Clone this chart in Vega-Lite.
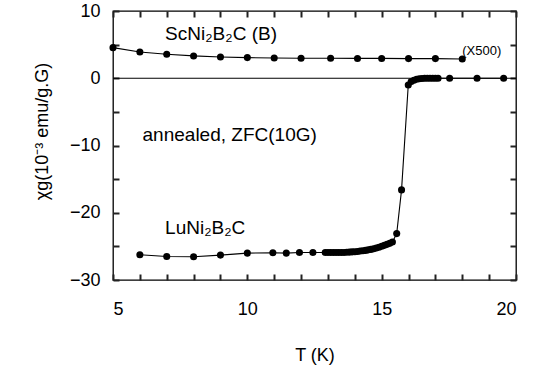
{
  "$schema": "https://vega.github.io/schema/vega-lite/v6.json",
  "autosize": {"type": "none"},
  "width": 403,
  "height": 269,
  "padding": {"left": 113, "top": 11, "right": 18, "bottom": 89},
  "background": "white",
  "config": {
    "view": {"stroke": "black", "strokeWidth": 1.3},
    "font": "Liberation Sans"
  },
  "datasets": {
    "pts": [
      {"series": "Sc", "T": 5, "chi": 4.55},
      {"series": "Sc", "T": 6, "chi": 3.91},
      {"series": "Sc", "T": 7, "chi": 3.56},
      {"series": "Sc", "T": 8, "chi": 3.32},
      {"series": "Sc", "T": 9, "chi": 3.17},
      {"series": "Sc", "T": 10, "chi": 3.07},
      {"series": "Sc", "T": 11, "chi": 3.02},
      {"series": "Sc", "T": 12, "chi": 2.97},
      {"series": "Sc", "T": 13.1, "chi": 2.97},
      {"series": "Sc", "T": 14.1, "chi": 2.95},
      {"series": "Sc", "T": 15, "chi": 2.95},
      {"series": "Sc", "T": 16, "chi": 2.92},
      {"series": "Sc", "T": 17, "chi": 2.92},
      {"series": "Sc", "T": 18, "chi": 2.87},
      {"series": "Lu", "T": 6, "chi": -26.25},
      {"series": "Lu", "T": 7, "chi": -26.5},
      {"series": "Lu", "T": 8, "chi": -26.55},
      {"series": "Lu", "T": 9, "chi": -26.3},
      {"series": "Lu", "T": 10, "chi": -26.0},
      {"series": "Lu", "T": 10.95, "chi": -25.95},
      {"series": "Lu", "T": 11.45, "chi": -26.0},
      {"series": "Lu", "T": 11.94, "chi": -25.9},
      {"series": "Lu", "T": 12.44, "chi": -25.9},
      {"series": "Lu", "T": 12.9, "chi": -25.9},
      {"series": "Lu", "T": 13.0, "chi": -25.9},
      {"series": "Lu", "T": 13.1, "chi": -25.9},
      {"series": "Lu", "T": 13.2, "chi": -25.92},
      {"series": "Lu", "T": 13.3, "chi": -25.92},
      {"series": "Lu", "T": 13.4, "chi": -25.92},
      {"series": "Lu", "T": 13.5, "chi": -25.9},
      {"series": "Lu", "T": 13.6, "chi": -25.9},
      {"series": "Lu", "T": 13.7, "chi": -25.88},
      {"series": "Lu", "T": 13.8, "chi": -25.85},
      {"series": "Lu", "T": 13.9, "chi": -25.82},
      {"series": "Lu", "T": 14.0, "chi": -25.8},
      {"series": "Lu", "T": 14.1, "chi": -25.75},
      {"series": "Lu", "T": 14.2, "chi": -25.7},
      {"series": "Lu", "T": 14.3, "chi": -25.65},
      {"series": "Lu", "T": 14.4, "chi": -25.6},
      {"series": "Lu", "T": 14.5, "chi": -25.52},
      {"series": "Lu", "T": 14.6, "chi": -25.45},
      {"series": "Lu", "T": 14.7, "chi": -25.35},
      {"series": "Lu", "T": 14.8, "chi": -25.25},
      {"series": "Lu", "T": 14.9, "chi": -25.12},
      {"series": "Lu", "T": 15.0, "chi": -24.98},
      {"series": "Lu", "T": 15.1, "chi": -24.85},
      {"series": "Lu", "T": 15.2, "chi": -24.7},
      {"series": "Lu", "T": 15.3, "chi": -24.55},
      {"series": "Lu", "T": 15.4, "chi": -24.35},
      {"series": "Lu", "T": 15.56, "chi": -23.1},
      {"series": "Lu", "T": 15.74, "chi": -16.6},
      {"series": "Lu", "T": 15.99, "chi": -1.0},
      {"series": "Lu", "T": 16.1, "chi": -0.5},
      {"series": "Lu", "T": 16.2, "chi": -0.3},
      {"series": "Lu", "T": 16.3, "chi": -0.15},
      {"series": "Lu", "T": 16.4, "chi": -0.08},
      {"series": "Lu", "T": 16.5, "chi": -0.03},
      {"series": "Lu", "T": 16.6, "chi": 0},
      {"series": "Lu", "T": 16.7, "chi": 0},
      {"series": "Lu", "T": 16.8, "chi": 0},
      {"series": "Lu", "T": 16.9, "chi": 0},
      {"series": "Lu", "T": 17.0, "chi": 0},
      {"series": "Lu", "T": 17.1, "chi": 0},
      {"series": "Lu", "T": 17.53, "chi": 0},
      {"series": "Lu", "T": 18.55, "chi": 0},
      {"series": "Lu", "T": 19.54, "chi": 0}
    ],
    "labels": [
      {"T": 6.94, "chi": 5.7, "text": "ScNi₂B₂C  (B)", "size": 19},
      {"T": 18.0, "chi": 3.5, "text": "(X500)", "size": 13},
      {"T": 6.1, "chi": -9.3, "text": "annealed,  ZFC(10G)", "size": 19},
      {"T": 6.94, "chi": -23.1, "text": "LuNi₂B₂C", "size": 19}
    ]
  },
  "layer": [
    {
      "data": {"values": [{"zero": 0}]},
      "mark": {"type": "rule", "color": "black", "strokeWidth": 1.2},
      "encoding": {
        "y": {"field": "zero", "type": "quantitative", "scale": {"domain": [-30, 10], "nice": false, "zero": false},
          "axis": {"orient": "left", "domain": false, "grid": false, "tickColor": "#222222", "tickWidth": 2, "tickSize": 6, "offset": -6, "values": [-30, -25, -20, -15, -10, -5, 0, 5, 10], "labelExpr": "datum.value % 10 === 0 ? datum.label : ''", "labelPadding": 13, "labelFontSize": 18, "labelColor": "black", "labelFont": "Liberation Sans", "title": "χg(10⁻³ emu/g.G)", "titleFont": "Liberation Sans", "titleFontWeight": "normal", "titleColor": "black", "titleFontSize": 18, "titleX": -77, "titleY": 120, "titleBaseline": "middle", "titleAngle": -90}}
      }
    },
    {
      "data": {"name": "pts"},
      "mark": {"type": "line", "color": "black", "strokeWidth": 1.1},
      "encoding": {
        "x": {"field": "T", "type": "quantitative", "scale": {"domain": [5, 20], "nice": false, "zero": false},
          "axis": {"orient": "bottom", "domain": false, "grid": false, "tickColor": "#222222", "tickWidth": 2, "tickSize": 6, "offset": -6, "values": [5, 6, 7, 8, 9, 10, 11, 12, 13, 14, 15, 16, 17, 18, 19, 20], "labelExpr": "datum.value % 5 === 0 ? datum.label : ''", "labelPadding": 20, "labelFontSize": 18, "labelColor": "black", "labelFont": "Liberation Sans", "title": "T  (K)", "titleFont": "Liberation Sans", "titleFontWeight": "normal", "titleColor": "black", "titleFontSize": 18, "titlePadding": 28}},
        "y": {"field": "chi", "type": "quantitative",
          "axis": {"orient": "right", "domain": false, "grid": false, "tickColor": "#222222", "tickWidth": 2, "tickSize": 6, "offset": -6, "values": [-30, -25, -20, -15, -10, -5, 0, 5, 10], "labels": false, "title": null}},
        "detail": {"field": "series"}
      }
    },
    {
      "data": {"name": "pts"},
      "mark": {"type": "point", "filled": true, "color": "black", "opacity": 1, "size": 50},
      "encoding": {
        "x": {"field": "T", "type": "quantitative",
          "axis": {"orient": "top", "domain": false, "grid": false, "tickColor": "#222222", "tickWidth": 2, "tickSize": 6, "offset": -6, "values": [5, 6, 7, 8, 9, 10, 11, 12, 13, 14, 15, 16, 17, 18, 19, 20], "labels": false, "title": null}},
        "y": {"field": "chi", "type": "quantitative", "axis": null}
      }
    },
    {
      "data": {"name": "labels"},
      "mark": {"type": "text", "align": "left", "baseline": "alphabetic", "color": "black", "font": "Liberation Sans"},
      "encoding": {
        "x": {"field": "T", "type": "quantitative", "axis": null},
        "y": {"field": "chi", "type": "quantitative", "axis": null},
        "text": {"field": "text"},
        "size": {"field": "size", "type": "quantitative", "scale": null}
      }
    }
  ],
  "resolve": {"axis": {"x": "independent", "y": "independent"}}
}
